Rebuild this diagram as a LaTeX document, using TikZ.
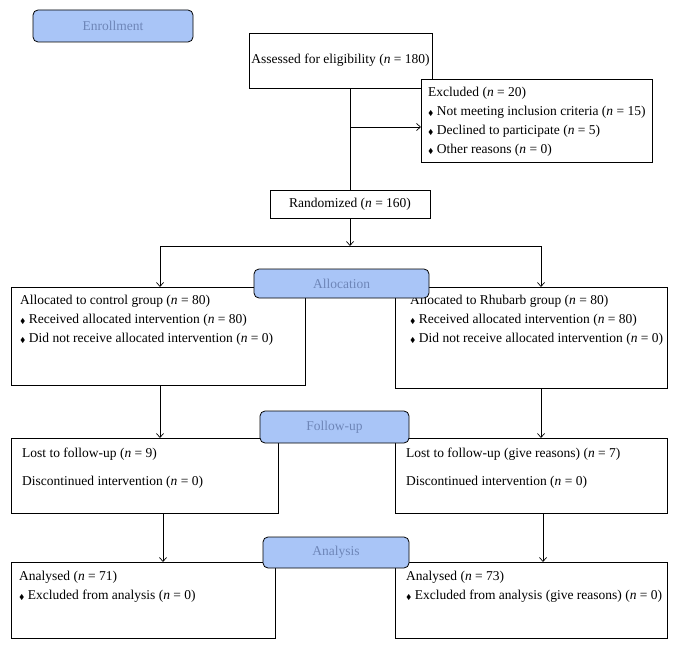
\documentclass[tikz,border=0pt]{standalone}
\usepackage{amssymb}
\usepackage{fontspec}
\setmainfont{Liberation Serif}
\usetikzlibrary{arrows.meta}
\definecolor{stage}{HTML}{A9C5F7}
\definecolor{stagetxt}{HTML}{6E86B8}
\newcommand{\dbul}{{\scriptsize$\blacklozenge$}\ }
\newcommand{\nn}{\textit{n}}
\begin{document}
\begin{tikzpicture}[x=1pt,y=-1pt,
  box/.style={draw,line width=0.7pt,fill=white,inner sep=0pt},
  stg/.style={draw,line width=0.8pt,fill=stage,rounded corners=5pt,text=stagetxt,inner sep=0pt,font=\fontsize{13.5}{15}\selectfont},
  txt/.style={anchor=north west,align=left,inner sep=0pt,font=\fontsize{13.5}{19}\selectfont},
  arr/.style={line width=0.7pt,-{Straight Barb[length=4pt,width=7pt]}},
  ln/.style={line width=0.7pt}]
\useasboundingbox (0,0) rectangle (677,647);
% boxes
\node[box,minimum width=183,minimum height=55] (assess) at (340.5,60.5) {\fontsize{13.5}{15}\selectfont Assessed for eligibility (\nn{} = 180)};
\node[box,minimum width=231,minimum height=83,anchor=north west] (excl) at (421,79) {};
\node[txt] (excltxt) at (428,87) {Excluded (\nn{} = 20)\\\dbul Not meeting inclusion criteria (\nn{} = 15)\\\dbul Declined to participate (\nn{} = 5)\\\dbul Other reasons (\nn{} = 0)};
\node[box,minimum width=160,minimum height=28] (random) at (350,204) {\fontsize{13.5}{15}\selectfont Randomized (\nn{} = 160)};
\node[box,minimum width=294,minimum height=98,anchor=north west] (allocL) at (11,287) {};
\node[box,minimum width=272,minimum height=101,anchor=north west] (allocR) at (395,287) {};
\node[txt] (allocLt) at (20,295) {Allocated to control group (\nn{} = 80)\\\dbul Received allocated intervention (\nn{} = 80)\\\dbul Did not receive allocated intervention (\nn{} = 0)};
\node[txt] (allocRt) at (410,295) {Allocated to Rhubarb group (\nn{} = 80)\\\dbul Received allocated intervention (\nn{} = 80)\\\dbul Did not receive allocated intervention (\nn{} = 0)};
\node[box,minimum width=267,minimum height=75,anchor=north west] (folL) at (11,438) {};
\node[box,minimum width=272,minimum height=75,anchor=north west] (folR) at (395,438) {};
\node[txt,font=\fontsize{13.5}{28}\selectfont] (folLt) at (22,448) {Lost to follow-up (\nn{} = 9)\\Discontinued intervention (\nn{} = 0)};
\node[txt,font=\fontsize{13.5}{28}\selectfont] (folRt) at (406,448) {Lost to follow-up (give reasons) (\nn{} = 7)\\Discontinued intervention (\nn{} = 0)};
\node[box,minimum width=264,minimum height=76,anchor=north west] (anaL) at (11,562) {};
\node[box,minimum width=272,minimum height=76,anchor=north west] (anaR) at (395,562) {};
\node[txt] (anaLt) at (19,571) {Analysed (\nn{} = 71)\\\dbul Excluded from analysis (\nn{} = 0)};
\node[txt] (anaRt) at (406,571) {Analysed (\nn{} = 73)\\\dbul Excluded from analysis (give reasons) (\nn{} = 0)};
% stage labels
\node[stg,minimum width=160,minimum height=32] (enr) at (113,26) {Enrollment};
\node[stg,minimum width=175,minimum height=29] (alloc) at (341.5,283.5) {Allocation};
\node[stg,minimum width=149,minimum height=32] (fol) at (334.5,427) {Follow-up};
\node[stg,minimum width=146,minimum height=31] (ana) at (336,552.5) {Analysis};
% connectors
\coordinate (split) at (350,246);
\draw[ln] (assess.south -| random) -- (random.north);
\draw[arr] (350,127) -- (excl.west |- 0,127);
\draw[arr] (random.south) -- (split);
\draw[ln] (160,246) -- (541,246);
\draw[arr] (160,246) -- (allocL.north -| 160,0);
\draw[arr] (541,246) -- (allocR.north -| 541,0);
\draw[arr] (allocL.south -| 160,0) -- (folL.north -| 160,0);
\draw[arr] (allocR.south -| 541,0) -- (folR.north -| 541,0);
\draw[arr] (folL.south -| 163,0) -- (anaL.north -| 163,0);
\draw[arr] (folR.south -| 543,0) -- (anaR.north -| 543,0);
\end{tikzpicture}
\end{document}
